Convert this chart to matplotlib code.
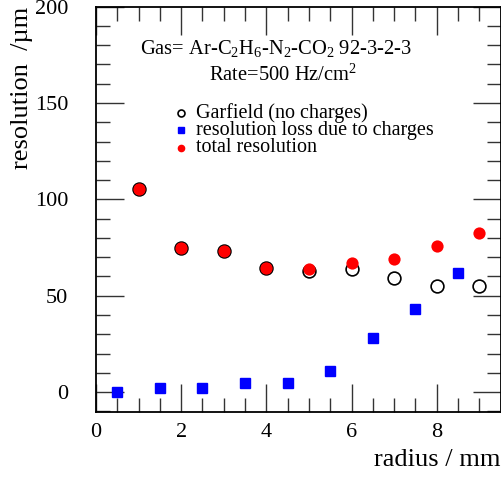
import matplotlib
matplotlib.use("Agg")
import matplotlib.pyplot as plt
from matplotlib.ticker import MultipleLocator

plt.rcParams['font.family'] = ['Liberation Serif', 'DejaVu Serif']
plt.rcParams['mathtext.fontset'] = 'custom'
plt.rcParams['mathtext.rm'] = 'Liberation Serif'
plt.rcParams['mathtext.default'] = 'rm'

# --- data (radius in mm, resolution in um)
r_loss = [0.5, 1.5, 2.5, 3.5, 4.5, 5.5, 6.5, 7.5, 8.5]
res_loss = [0.0, 1.9, 1.9, 4.5, 4.8, 11.0, 28.3, 43.0, 61.8]

r_sim = [1, 2, 3, 4, 5, 6, 7, 8, 9]
res_garfield = [105.3, 74.8, 73.0, 64.2, 62.8, 63.7, 59.0, 54.9, 54.9]
res_total = [105.5, 74.9, 73.2, 64.6, 63.7, 66.8, 68.9, 75.8, 82.7]

# --- plot
fig = plt.figure(figsize=(5.02, 4.79), dpi=100)
ax = fig.add_axes([0.1912, 0.1392, 0.806, 0.847])

ax.plot(r_sim, res_garfield, 'o', ms=9.2, mfc='none', mec='black', mew=1.2)
ax.plot(r_loss, res_loss, 's', ms=7.8, color='#0000ff', mec='#0000ff')
ax.plot(r_sim, res_total, 'o', ms=8.8, color='#ff0000', mec='none')

ax.set_xlim(0, 9.5)
ax.set_ylim(-10.5, 200)
ax.xaxis.set_major_locator(MultipleLocator(2))
ax.xaxis.set_minor_locator(MultipleLocator(0.5))
ax.yaxis.set_major_locator(MultipleLocator(50))
ax.yaxis.set_minor_locator(MultipleLocator(10))
ax.tick_params(which='both', direction='in', top=True, right=True,
               labelsize=16, color='#333333')
ax.tick_params(which='major', length=20, width=1.0)
ax.tick_params(which='minor', length=10, width=1.0)
ax.tick_params(axis='x', which='major', pad=8)
ax.tick_params(axis='y', which='major', pad=20)
for s in ax.spines.values():
    s.set_linewidth(1.3)

ax.set_xlabel('radius / mm', fontsize=19, loc='right', labelpad=5)
ax.set_ylabel('resolution  /µm', fontsize=19, loc='top', labelpad=1)

ax.text(0.445, 0.896, 'Gas= Ar-C$_2$H$_6$-N$_2$-CO$_2$ 92-3-2-3',
        transform=ax.transAxes, ha='center', va='center', fontsize=14.8)
ax.text(0.462, 0.832, 'Rate=500 Hz/cm$^2$',
        transform=ax.transAxes, ha='center', va='center', fontsize=14.8)

# legend drawn by hand with small markers
leg_x, txt_x = 0.21, 0.247
rows = [0.738, 0.695, 0.652]
ax.plot([leg_x], [rows[0]], 'o', ms=5, mfc='none', mec='black', mew=1.2,
        transform=ax.transAxes)
ax.plot([leg_x], [rows[1]], 's', ms=4.5, color='#0000ff',
        transform=ax.transAxes)
ax.plot([leg_x], [rows[2]], 'o', ms=4.5, color='#ff0000',
        transform=ax.transAxes)
labels = ['Garfield (no charges)', 'resolution loss due to charges',
          'total resolution']
for y, t in zip(rows, labels):
    ax.text(txt_x, y, t, transform=ax.transAxes, ha='left', va='center',
            fontsize=14.5)

fig.savefig('out.png', dpi=100)
